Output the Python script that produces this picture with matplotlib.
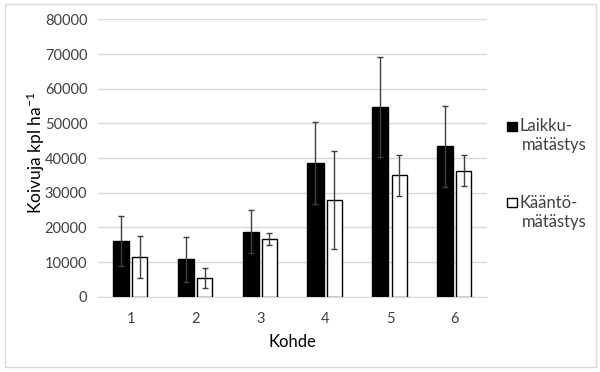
import numpy as np
import matplotlib
matplotlib.use("Agg")
from matplotlib import pyplot as plt
from matplotlib.patches import Rectangle

# Birch seedling counts per site, with error bars
sites = ['1', '2', '3', '4', '5', '6']
laikku = [16000, 10800, 18800, 38600, 54800, 43400]
laikku_err = [7200, 6500, 6300, 11900, 14400, 11700]
kaanto = [11500, 5400, 16600, 28000, 35000, 36400]
kaanto_err = [6000, 2800, 1800, 14100, 5900, 4600]
series_names = [('Laikku-', 'mätästys'), ('Kääntö-', 'mätästys')]

plt.rcParams['font.family'] = ['Lato', 'DejaVu Sans']
plt.rcParams['mathtext.fontset'] = 'custom'
plt.rcParams['mathtext.rm'] = 'Lato'
plt.rcParams['mathtext.default'] = 'rm'

txt = '#404040'
fig = plt.figure(figsize=(6, 3.72), dpi=100)
ax = fig.add_axes([0.164, 0.2024, 0.648, 0.7456])

x = np.arange(len(sites))
w = 0.25
err_kw = dict(ecolor='#404040', elinewidth=1, capsize=2, capthick=1)

ax.bar(x - 0.15, laikku, w, yerr=laikku_err, color='black', edgecolor='black',
       linewidth=1, error_kw=err_kw, zorder=3)
ax.bar(x + 0.14, kaanto, w * 0.92, yerr=kaanto_err, color='white', edgecolor='black',
       linewidth=1, error_kw=err_kw, zorder=3)

ax.set_xlim(-0.5, len(sites) - 0.5)
ax.set_ylim(0, 80000)
ax.set_yticks(range(0, 80001, 10000))
ax.set_xticks(x)
ax.set_xticklabels(sites)
ax.yaxis.grid(True, color='#d9d9d9', linewidth=1, zorder=0)
ax.set_axisbelow(True)
for s in ['top', 'right', 'left']:
    ax.spines[s].set_visible(False)
ax.spines['bottom'].set_color('#d9d9d9')
ax.tick_params(axis='both', length=0, labelsize=10.5, colors=txt, pad=8)
ax.tick_params(axis='x', pad=11)

ax.set_xlabel('Kohde', fontsize=12, labelpad=6, color='black')
ax.set_ylabel('Koivuja kpl ha$^{-1}$', fontsize=12.5, color='black', va='center')
ax.yaxis.set_label_coords(-0.162, 0.52)

# legend drawn by hand: square next to first line, second line below
W, H = 600, 372
for (l1, l2), fc, yc in zip(series_names, ['black', 'white'], [126, 203]):
    fig.patches.append(Rectangle((507 / W, 1 - (yc + 4.5) / H), 10 / W, 9 / H,
                                 transform=fig.transFigure, facecolor=fc,
                                 edgecolor='black', linewidth=1))
    fig.text(519.5 / W, 1 - yc / H, l1, fontsize=12, va='center', ha='left', color=txt)
    fig.text(522 / W, 1 - (yc + 19) / H, l2, fontsize=12, va='center', ha='left', color=txt)

fig.patches.append(Rectangle((5 / W, 5 / H), 591 / W, 363 / H,
                             transform=fig.transFigure, fill=False,
                             edgecolor='#d9d9d9', linewidth=1))

plt.savefig('out.png', dpi=100)
